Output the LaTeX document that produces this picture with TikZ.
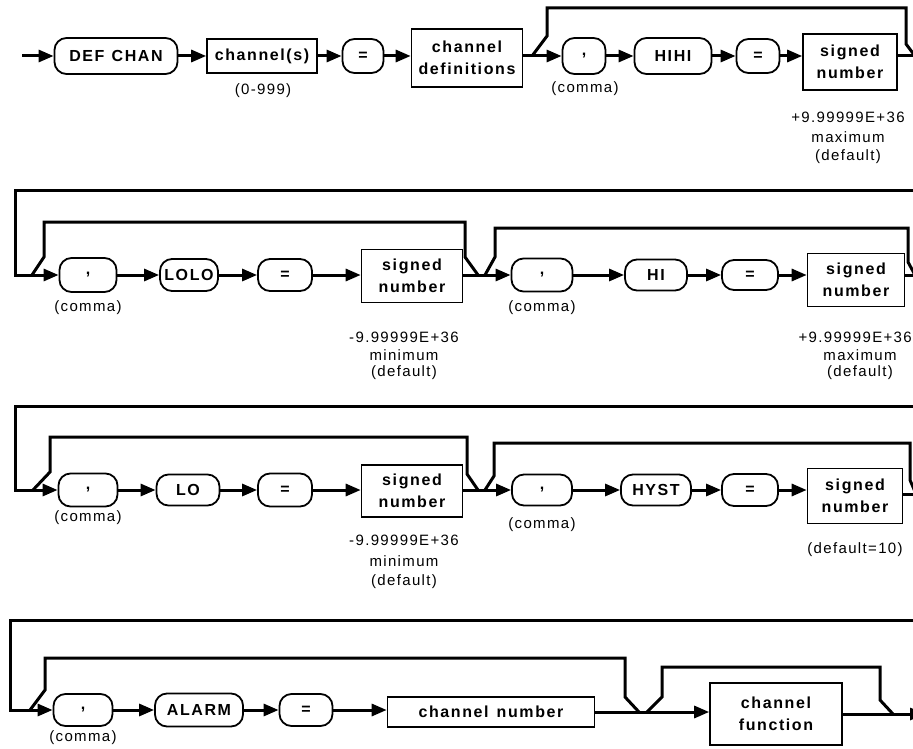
\documentclass[tikz,border=0pt]{standalone}
\usepackage{fontspec}
\setmainfont{Liberation Sans}
\newfontfamily\kwfont{Liberation Sans}[LetterSpace=10]
\newfontfamily\anfont{Liberation Sans}[LetterSpace=9]
\usetikzlibrary{arrows.meta,calc}
\tikzset{
  rbox/.style={draw, line width=1.8pt, rounded corners=12pt, inner sep=0pt, align=center,
    font=\kwfont\bfseries\fontsize{16}{19}\selectfont},
  sbox/.style={draw, line width=1.6pt, inner sep=0pt, align=center,
    font=\kwfont\bfseries\fontsize{16}{22}\selectfont},
  note/.style={inner sep=0pt, align=center, font=\anfont\fontsize{15}{19}\selectfont},
  conn/.style={line width=3pt, line join=miter},
  arr/.style={conn, -{Triangle[length=15pt,width=12pt]}},
}
\begin{document}
\begin{tikzpicture}[x=1pt,y=-1pt]
\useasboundingbox (0,0) rectangle (913,749);
\clip (0,0) rectangle (913,749);

% ---------------- Row 1 ----------------
\coordinate (s0) at (22,56);
\node[rbox, minimum width=123pt, minimum height=36pt] (defchan) at (116,56) {DEF\hspace{0.45em}CHAN};
\node[sbox, minimum width=110pt, minimum height=34pt] (chans) at (262,56) {channel(s)};
\node[rbox, minimum width=41pt, minimum height=34pt] (eq1) at (363,56) {=};
\node[sbox, minimum width=111pt, minimum height=58pt] (chdef) at (467,58) {channel\\definitions};
\node[rbox, minimum width=43pt, minimum height=36pt] (comma1) at (584,56) {,};
\node[rbox, minimum width=77pt, minimum height=36pt] (hihi) at (673,56) {HIHI};
\node[rbox, minimum width=43pt, minimum height=34pt] (eq2) at (758,56) {=};
\node[sbox, minimum width=94pt, minimum height=56pt] (sn1) at (850,62) {signed\\number};
\node[note] (l01) at (263,91) {(0-999)};
\node[note] (l02) at (585,89) {(comma)};
\node[note] (l03) at (848,117) {+9.99999E+36};
\node[note] (l04) at (848,137) {maximum};
\node[note] (l05) at (848,157) {(default)};
\coordinate (b1) at (532,56);
\coordinate (m1) at (915,56);

\draw[arr] (s0) -- (defchan);
\draw[arr] (defchan) -- (chans);
\draw[arr] (chans) -- (eq1);
\draw[arr] (eq1) -- (chdef.west |- eq1);
\draw[conn] (chdef.east |- b1) -- (b1);
\draw[arr] (b1) -- (comma1);
\draw[arr] (comma1) -- (hihi);
\draw[arr] (hihi) -- (eq2);
\draw[arr] (eq2) -- (sn1.west |- eq2);
\draw[conn] (sn1.east |- m1) -- (m1);
\draw[conn] (b1) -- (547,36) -- (547,8) -- (906,8) -- (906,44) -- (m1);

% ---------------- Row 2 ----------------
\coordinate (e1) at (915,190);
\coordinate (b2) at (32,275);
\node[rbox, minimum width=57pt, minimum height=34pt] (comma2) at (88,275) {,};
\node[rbox, minimum width=58pt, minimum height=32pt] (lolo) at (189,275) {LOLO};
\node[rbox, minimum width=54pt, minimum height=32pt] (eq3) at (285,275) {=};
\node[sbox, minimum width=101pt, minimum height=53pt] (sn2) at (412,276) {signed\\number};
\coordinate (m2) at (478,275);
\coordinate (b3) at (485,275);
\node[rbox, minimum width=61pt, minimum height=33pt] (comma3) at (542,275) {,};
\node[rbox, minimum width=62pt, minimum height=31pt] (hi) at (656,275) {HI};
\node[rbox, minimum width=56pt, minimum height=30pt] (eq4) at (750,275) {=};
\node[sbox, minimum width=97pt, minimum height=53pt] (sn3) at (856,280) {signed\\number};
\coordinate (m3) at (915,275);
\node[note] (l11) at (88,308) {(comma)};
\node[note] (l12) at (404,337) {-9.99999E+36};
\node[note] (l13) at (404,355) {minimum};
\node[note] (l14) at (404,373) {(default)};
\node[note] (l15) at (542,308) {(comma)};
\node[note, anchor=east] (l16) at (912,337) {+9.99999E+36};
\node[note] (l17) at (860,355) {maximum};
\node[note] (l18) at (860,373) {(default)};

\draw[conn] (e1) -| (15,275) -- (b2);
\draw[arr] (b2) -- (comma2);
\draw[arr] (comma2) -- (lolo);
\draw[arr] (lolo) -- (eq3);
\draw[arr] (eq3) -- (sn2.west |- eq3);
\draw[conn] (sn2.east |- b3) -- (b3);
\draw[arr] (b3) -- (comma3);
\draw[arr] (comma3) -- (hi);
\draw[arr] (hi) -- (eq4);
\draw[arr] (eq4) -- (sn3.west |- eq4);
\draw[conn] (sn3.east |- m3) -- (m3);
\draw[conn] (b2) -- (44,257) -- (44,222) -- (465,222) -- (465,257) -- (m2);
\draw[conn] (b3) -- (495,257) -- (495,228) -- (908,228) -- (908,262) -- (m3);

% ---------------- Row 3 ----------------
\coordinate (e2) at (915,406);
\coordinate (b4) at (33,490);
\node[rbox, minimum width=59pt, minimum height=33pt] (comma4) at (88,490) {,};
\node[rbox, minimum width=63pt, minimum height=31pt] (lo) at (188,490) {LO};
\node[rbox, minimum width=54pt, minimum height=33pt] (eq5) at (285,490) {=};
\node[sbox, minimum width=101pt, minimum height=52pt] (sn4) at (412,491) {signed\\number};
\coordinate (m4) at (478,490);
\coordinate (b5) at (485,490);
\node[rbox, minimum width=60pt, minimum height=31pt] (comma5) at (542,490) {,};
\node[rbox, minimum width=70pt, minimum height=31pt] (hyst) at (656,490) {HYST};
\node[rbox, minimum width=56pt, minimum height=32pt] (eq6) at (750,490) {=};
\node[sbox, minimum width=95pt, minimum height=55pt] (sn5) at (855,496) {signed\\number};
\coordinate (m5) at (916,494);
\node[note] (l21) at (88,518) {(comma)};
\node[note] (l22) at (404,540) {-9.99999E+36};
\node[note] (l23) at (404,561) {minimum};
\node[note] (l24) at (404,582) {(default)};
\node[note] (l25) at (542,525) {(comma)};
\node[note] (l26) at (855,550) {(default=10)};

\draw[conn] (e2) -| (15,490) -- (b4);
\draw[arr] (b4) -- (comma4);
\draw[arr] (comma4) -- (lo);
\draw[arr] (lo) -- (eq5);
\draw[arr] (eq5) -- (sn4.west |- eq5);
\draw[conn] (sn4.east |- b5) -- (b5);
\draw[arr] (b5) -- (comma5);
\draw[arr] (comma5) -- (hyst);
\draw[arr] (hyst) -- (eq6);
\draw[arr] (eq6) -- (sn5.west |- eq6);
\draw[conn] (sn5.east |- m5) -- (m5);
\draw[conn] (b4) -- (50,472) -- (50,437) -- (467,437) -- (467,474) -- (m4);
\draw[conn] (b5) -- (494,476) -- (494,443) -- (910,443) -- (910,480) -- (m5);

% ---------------- Row 4 ----------------
\coordinate (e3) at (915,620);
\coordinate (b6) at (30,710);
\node[rbox, minimum width=59pt, minimum height=32pt] (comma6) at (83,710) {,};
\node[rbox, minimum width=88pt, minimum height=33pt] (alarm) at (199,710) {ALARM};
\node[rbox, minimum width=53pt, minimum height=32pt] (eq7) at (306,710) {=};
\node[sbox, minimum width=207pt, minimum height=30pt] (chnum) at (491,712) {channel\hspace{0.5em}number};
\coordinate (m6) at (639,712);
\coordinate (b7) at (647,712);
\node[sbox, minimum width=132pt, minimum height=62pt] (chfn) at (776,714) {channel\\function};
\coordinate (m7) at (893,714);
\coordinate (x7) at (925,714);
\node[note] (l31) at (83,738) {(comma)};

\draw[conn] (e3) -| (10,710) -- (b6);
\draw[arr] (b6) -- (comma6);
\draw[arr] (comma6) -- (alarm);
\draw[arr] (alarm) -- (eq7);
\draw[arr] (eq7) -- (chnum.west |- eq7);
\draw[conn] (chnum.east |- b7) -- (b7);
\draw[arr] (b7) -- (chfn.west |- b7);
\draw[conn] (chfn.east |- m7) -- (m7);
\draw[arr] (m7) -- (x7);
\draw[conn] (b6) -- (45,690) -- (45,658) -- (625,658) -- (625,697) -- (m6);
\draw[conn] (b7) -- (662,697) -- (662,667) -- (880,667) -- (880,700) -- (m7);
\end{tikzpicture}
\end{document}
